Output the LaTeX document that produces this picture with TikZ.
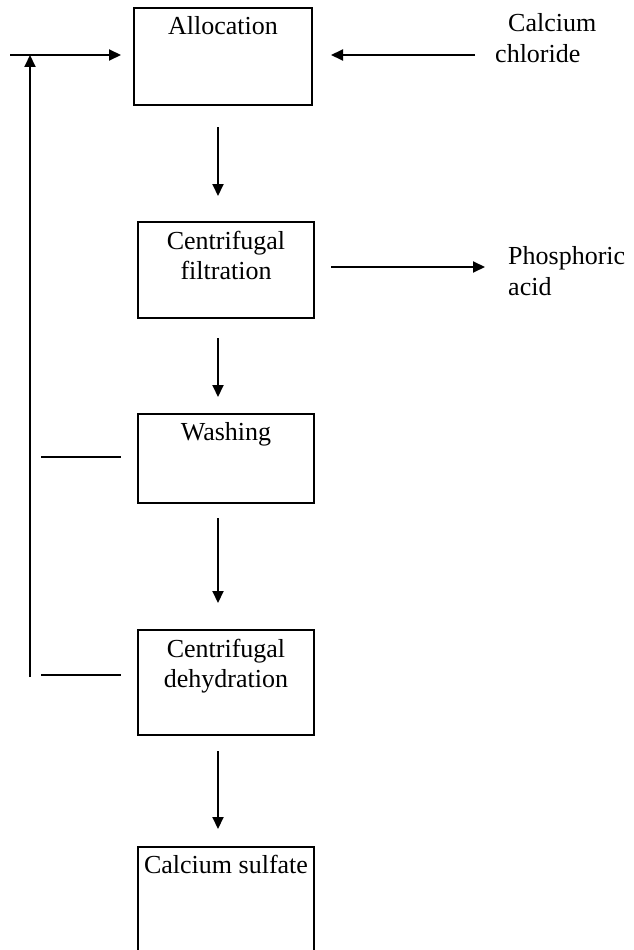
\documentclass[tikz,border=0pt]{standalone}
\usepackage{fontspec}
\setmainfont{Liberation Serif}
\usetikzlibrary{arrows.meta}
\begin{document}
\begin{tikzpicture}[x=1pt,y=-1pt,
  box/.style={draw,line width=2pt,minimum width=176pt,inner sep=0pt},
  lbl/.style={font=\fontsize{26}{30}\selectfont,inner sep=0pt,align=center},
  side/.style={font=\fontsize{26}{31}\selectfont,inner sep=0pt,align=left},
  flow/.style={line width=2pt},
  arr/.style={flow,-{Triangle[length=12pt,width=11pt]}}]
\useasboundingbox (0,0) rectangle (633,950);
\clip (0,0) rectangle (633,950);

% process boxes
\node[box,minimum width=178pt,minimum height=97pt] (alloc) at (223,56.5) {};
\node[box,minimum height=96pt]  (filt)  at (226,270) {};
\node[box,minimum height=89pt]  (wash)  at (226,458.5) {};
\node[box,minimum height=105pt] (dehyd) at (226,682.5) {};
\node[box,minimum height=140pt] (sulf)  at (226,917) {};

% box captions (base = baseline of the last line)
\node[lbl,anchor=base] (allocT) at (223,35) {Allocation};
\node[lbl,anchor=base] (filtT)  at (226,279) {Centrifugal\\filtration};
\node[lbl,anchor=base] (washT)  at (226,440) {Washing};
\node[lbl,anchor=base] (dehydT) at (226,687) {Centrifugal\\dehydration};
\node[lbl,anchor=base] (sulfT)  at (226,873) {Calcium sulfate};

% side streams
\node[side,anchor=base west] (cacl) at (495,63) {\hspace*{13pt}Calcium\\chloride};
\node[side,anchor=base west] (phos) at (508,295) {Phosphoric\\acid};

% helper points
\coordinate (col) at (218,0);
\coordinate (feed) at (10,55);
\coordinate (rtop) at (30,55);
\coordinate (rbot) at (30,677);
\coordinate (stubA) at (41,457);
\coordinate (stubB) at (41,675);
\coordinate (clin) at (475,55);
\coordinate (pout) at (485,267);

% main line
\draw[arr,shorten <=21pt,shorten >=25pt] (alloc.south -| col) -- (filt.north -| col);
\draw[arr,shorten <=19pt,shorten >=16pt] (filt.south -| col) -- (wash.north -| col);
\draw[arr,shorten <=14pt,shorten >=26pt] (wash.south -| col) -- (dehyd.north -| col);
\draw[arr,shorten <=15pt,shorten >=17pt] (dehyd.south -| col) -- (sulf.north -| col);

% feeds and products
\draw[arr,shorten >=18pt] (clin) -- (clin -| alloc.east);
\draw[arr,shorten <=16pt] (pout -| filt.east) -- (pout);
\draw[arr,shorten >=12pt] (feed) -- (feed -| alloc.west);

% return loop
\draw[flow,shorten >=16pt] (stubA) -- (stubA -| wash.west);
\draw[flow,shorten >=16pt] (stubB) -- (stubB -| dehyd.west);
\draw[arr] (rbot) -- (rtop);
\end{tikzpicture}
\end{document}
